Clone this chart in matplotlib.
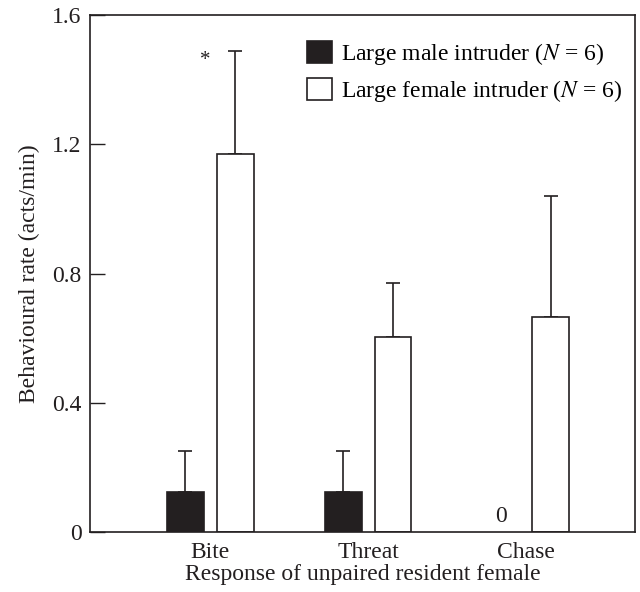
import numpy as np
import matplotlib.pyplot as plt
from matplotlib.patches import Patch

plt.rcParams['font.family'] = 'Liberation Serif'
plt.rcParams['mathtext.fontset'] = 'stix'

categories = ['Bite', 'Threat', 'Chase']
male_mean = [0.125, 0.125, 0.0]
male_err = [0.125, 0.125, 0.0]
female_mean = [1.17, 0.605, 0.666]
female_err = [0.32, 0.165, 0.374]
yticks = [0, 0.4, 0.8, 1.2, 1.6]
ytick_labels = ['0', '0.4', '0.8', '1.2', '1.6']


def main():
    dark = '#231f20'
    fs = 17
    fig = plt.figure(figsize=(6.4, 5.92), dpi=100)
    ax = fig.add_axes([90/640, 60/592, 545/640, 517/592])

    x = np.arange(len(categories))
    w = 0.234
    off = 0.158

    # male bars (zero-height bars are simply not drawn)
    for i in range(len(categories)):
        if male_mean[i] > 0:
            ax.bar(x[i] - off, male_mean[i], w, color=dark, edgecolor=dark, linewidth=1.2)
            ax.errorbar(x[i] - off, male_mean[i], yerr=[[0], [male_err[i]]],
                        fmt='none', ecolor=dark, elinewidth=1.2, capsize=4.7, capthick=1.2)
        else:
            ax.text(x[i] - off, 0.015, '0', ha='center', va='bottom', fontsize=fs, color=dark)

    ax.bar(x + off, female_mean, w, color='white', edgecolor=dark, linewidth=1.2, zorder=2)
    ax.errorbar(x + off, female_mean, yerr=[np.zeros(len(x)), female_err],
                fmt='none', ecolor=dark, elinewidth=1.2, capsize=4.7, capthick=1.2, zorder=1)

    ax.text(x[0] - 0.03, 1.43, '*', ha='center', va='bottom', fontsize=15, color=dark)

    ax.set_xlim(-0.76, 2.69)
    ax.set_ylim(0, 1.6)
    ax.set_xticks(x)
    ax.set_xticklabels(categories, fontsize=fs)
    ax.set_yticks(yticks)
    ax.set_yticklabels(ytick_labels, fontsize=fs)
    ax.tick_params(axis='y', direction='in', length=11, width=1, pad=6, colors=dark)
    ax.tick_params(axis='x', length=0, pad=7, colors=dark)
    for s in ax.spines.values():
        s.set_linewidth(1.2)
        s.set_color(dark)

    ax.set_ylabel('Behavioural rate (acts/min)', fontsize=fs, labelpad=9, color=dark)
    ax.set_xlabel('Response of unpaired resident female', fontsize=fs, labelpad=1, color=dark)

    handles = [Patch(facecolor=dark, edgecolor=dark, linewidth=1.2),
               Patch(facecolor='white', edgecolor=dark, linewidth=1.2)]
    labels = ['Large male intruder ($N$ = 6)', 'Large female intruder ($N$ = 6)']
    ax.legend(handles, labels, loc='upper left', bbox_to_anchor=(217/545, 1 - 26/517),
              frameon=False, fontsize=fs, handlelength=1.05, handleheight=1.05,
              handletextpad=0.4, labelspacing=0.45, borderaxespad=0, borderpad=0)

    fig.savefig('out.png', dpi=100)


if __name__ == '__main__':
    main()
